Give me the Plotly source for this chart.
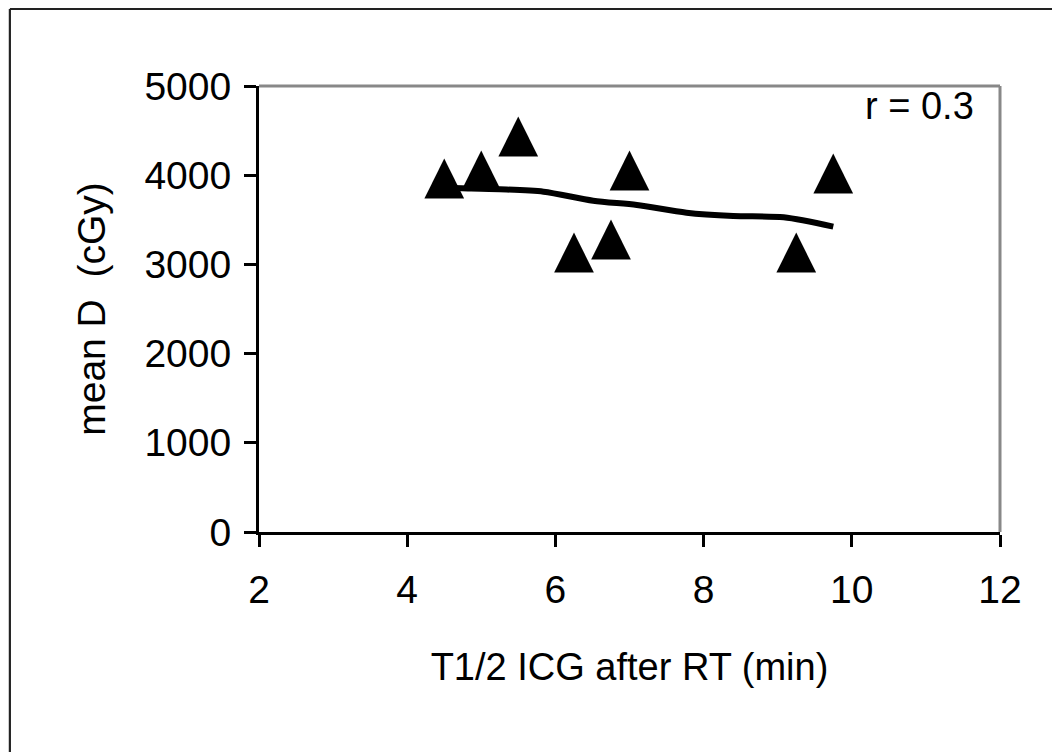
import plotly.graph_objects as go

# Data
t_half = [4.5, 5.0, 5.5, 6.25, 6.75, 7.0, 9.25, 9.75]
mean_dose = [3960, 4045, 4425, 3130, 3275, 4045, 3130, 4010]

trend_x = [4.5, 4.74, 5.25, 5.84, 6.51, 7.10, 7.77, 8.40, 9.08, 9.75]
trend_y = [3858, 3853, 3842, 3815, 3714, 3666, 3580, 3543, 3528, 3423]

x_ticks = [2, 4, 6, 8, 10, 12]
y_ticks = [0, 1000, 2000, 3000, 4000, 5000]

FONT = "Liberation Sans, Arial, sans-serif"

fig = go.Figure()

fig.add_trace(go.Scatter(
    x=t_half, y=mean_dose, mode="text",
    text=["▲"] * len(t_half), textposition="middle center",
    textfont=dict(family="DejaVu Sans", size=52, color="black"),
    showlegend=False, hoverinfo="skip",
))

fig.add_trace(go.Scatter(
    x=trend_x, y=trend_y, mode="lines",
    line=dict(color="black", width=6, shape="spline", smoothing=0.8),
    showlegend=False, hoverinfo="skip",
))

axis_common = dict(
    showgrid=False, zeroline=False, showline=True, linecolor="black",
    linewidth=3, ticks="outside", ticklen=12, tickwidth=2.5, tickcolor="black",
    tickfont=dict(family=FONT, size=39, color="black"),
)

fig.update_xaxes(
    range=[2, 12], tickvals=x_ticks, ticktext=[str(v) for v in x_ticks],
    title=dict(text="T1/2 ICG after RT (min)", font=dict(family=FONT, size=38, color="black"),
               standoff=44),
    ticklabelstandoff=9,
    **axis_common,
)
fig.update_yaxes(
    range=[0, 5000], tickvals=y_ticks, ticktext=[str(v) for v in y_ticks],
    title=dict(text="mean D  (cGy)", font=dict(family=FONT, size=39, color="black"),
               standoff=27),
    ticklabelstandoff=5,
    **axis_common,
)

shapes = [
    # grey top and right border of the plot area
    dict(type="line", xref="paper", yref="paper", x0=0, x1=1, y0=1, y1=1,
         line=dict(color="#888888", width=3)),
    dict(type="line", xref="paper", yref="paper", x0=1, x1=1, y0=0, y1=1,
         line=dict(color="#888888", width=3)),
    # outer frame (left and top edges visible)
    dict(type="line", xref="paper", yref="paper", x0=-0.3362, x1=1.2, y0=1.1726, y1=1.1726,
         line=dict(color="#222222", width=2.2), layer="above"),
    dict(type="line", xref="paper", yref="paper", x0=-0.3362, x1=-0.3362, y0=-0.6, y1=1.1726,
         line=dict(color="#222222", width=2.2), layer="above"),
]

fig.update_layout(
    width=1052, height=744,
    margin=dict(l=251, r=60, t=78, b=220, autoexpand=False),
    paper_bgcolor="white", plot_bgcolor="white",
    shapes=shapes,
    annotations=[dict(
        text="r = 0.3", xref="paper", yref="paper", x=0.967, y=0.955,
        xanchor="right", yanchor="middle", showarrow=False,
        font=dict(family=FONT, size=38, color="black"),
    )],
)

fig.write_html("out.html")
